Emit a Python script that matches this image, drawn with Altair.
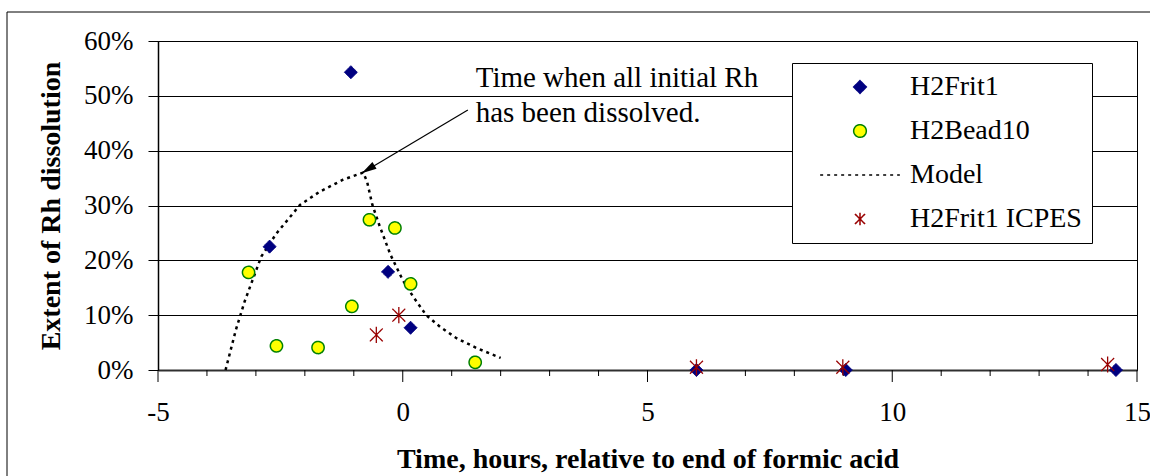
import altair as alt
import pandas as pd

series_names = ["H2Frit1", "H2Bead10", "Model", "H2Frit1 ICPES"]

frit_x = [-2.72, -1.06, -0.30, 0.16, 6.0, 9.05, 14.57]
frit_y = [0.225, 0.543, 0.179, 0.077, 0.0, 0.0, 0.0]

bead_x = [-3.15, -2.58, -1.73, -1.04, -0.68, -0.16, 0.16, 1.48]
bead_y = [0.178, 0.044, 0.041, 0.116, 0.274, 0.259, 0.157, 0.014]

icp_x = [-0.54, -0.08, 6.0, 8.99, 14.40]
icp_y = [0.064, 0.100, 0.005, 0.005, 0.010]

model_x = [-3.62, -3.41, -3.23, -2.89, -2.58, -2.10, -1.70, -1.22, -0.81,
           -0.73, -0.62, -0.47, -0.25, 0.0, 0.21, 0.48, 0.76, 1.10, 1.51, 2.0]
model_y = [0.0, 0.073, 0.125, 0.207, 0.249, 0.301, 0.325, 0.347, 0.360,
           0.344, 0.301, 0.262, 0.210, 0.164, 0.134, 0.100, 0.079, 0.058, 0.040, 0.022]

major_ticks = [-5, 0, 5, 10, 15]
minor_ticks = [t for t in range(-5, 16) if t % 5 != 0]

note_text = "Time when all initial Rh\nhas been dissolved."
note_x = [1.49]
note_y = [0.517]
arrow_from = (1.33, 0.474)
arrow_to = (-0.84, 0.359)

FONT = "Liberation Serif"
STAR = "M0,-1V1M-0.8,-0.8L0.8,0.8M-0.8,0.8L0.8,-0.8"
LINE = "M-6.3,0H6.3"
ARROW = "M0,0L-0.4,1.5L0.4,1.5Z"
H = 329

frit = pd.DataFrame({"x": frit_x, "y": frit_y, "series": "H2Frit1"})
bead = pd.DataFrame({"x": bead_x, "y": bead_y, "series": "H2Bead10"})
icp = pd.DataFrame({"x": icp_x, "y": icp_y, "series": "H2Frit1 ICPES"})
model = pd.DataFrame({"x": model_x, "y": model_y, "series": "Model"})
note = pd.DataFrame({"x": note_x, "y": note_y, "t": [note_text]})
arrow = pd.DataFrame({"x": [arrow_from[0]], "y": [arrow_from[1]],
                      "x2": [arrow_to[0]], "y2": [arrow_to[1]]})
head = pd.DataFrame({"x": [arrow_to[0]], "y": [arrow_to[1]]})
frame = pd.DataFrame({"k": [0]})
majors = pd.DataFrame({"x": major_ticks})
minors = pd.DataFrame({"x": minor_ticks})

legend = alt.Legend(
    title=None, orient="none", legendX=634, legendY=22,
    fillColor="white", strokeColor="black", padding=10,
    labelFont=FONT, labelFontSize=28, labelColor="black", labelLimit=400,
    symbolSize=160, symbolStrokeWidth=1.5, rowPadding=16,
    symbolOffset=44, labelOffset=36,
)

shape_enc = alt.Shape("series:N", scale=alt.Scale(domain=series_names, range=["diamond", "circle", LINE, STAR]), legend=legend)
fill_enc = alt.Fill("series:N", scale=alt.Scale(domain=series_names, range=["#000080", "#FFFF00", "transparent", "transparent"]), legend=legend)
stroke_enc = alt.Stroke("series:N", scale=alt.Scale(domain=series_names, range=["#000080", "#008000", "#000000", "#990000"]), legend=legend)
dash_enc = alt.StrokeDash("series:N", scale=alt.Scale(domain=series_names, range=[[1, 0], [1, 0], [3, 4], [1, 0]]), legend=legend)

xs = alt.Scale(domain=[-5, 15], nice=False)
ys = alt.Scale(domain=[0, 0.6], nice=False)

x_axis = alt.Axis(
    values=major_ticks, orient="bottom",
    labelExpr="replace(datum.label, '\u2212', '-')",
    ticks=False, domainColor="#303030", domainWidth=2,
    grid=False, labelFont=FONT, labelFontSize=27, labelColor="black",
    labelPadding=29, labelFlush=False,
    title="Time, hours, relative to end of formic acid",
    titleFont=FONT, titleFontSize=28, titleFontWeight="bold", titleColor="black",
    titleX=489.5, titleY=97, titleBaseline="alphabetic", titleAlign="center",
)
y_axis = alt.Axis(
    values=[0, 0.1, 0.2, 0.3, 0.4, 0.5, 0.6], format=".0%",
    tickSize=10, tickColor="black", domainColor="black", domainWidth=1.5,
    grid=True, gridColor="black", gridWidth=1,
    labelFont=FONT, labelFontSize=27, labelColor="black", labelPadding=15,
    title="Extent of Rh dissolution",
    titleFont=FONT, titleFontSize=28, titleFontWeight="bold", titleColor="black",
    titleX=-107, titleY=164.5, titleAngle=-90, titleBaseline="middle", titleAlign="center",
)

X = alt.X("x:Q", scale=xs, axis=x_axis)
Y = alt.Y("y:Q", scale=ys, axis=y_axis)

frame_layer = alt.Chart(frame).mark_rect(fillOpacity=0, stroke="black", strokeWidth=1).encode(
    x=alt.value(-151), x2=alt.value(1250), y=alt.value(-29), y2=alt.value(560)
)

major_layer = alt.Chart(majors).mark_rule(color="black", strokeWidth=1).encode(
    x=X, y=alt.value(H), y2=alt.value(H + 12)
)
minor_layer = alt.Chart(minors).mark_rule(color="black", strokeWidth=1).encode(
    x=X, y=alt.value(H), y2=alt.value(H + 6)
)

line_layer = alt.Chart(model).mark_line(strokeWidth=2.5, opacity=1).encode(
    x=X, y=Y, stroke=stroke_enc, strokeDash=dash_enc
)

def pts(df, size, sw):
    return alt.Chart(df).mark_point(size=size, opacity=1, strokeWidth=sw, filled=False).encode(
        x=X, y=Y, shape=shape_enc, fill=fill_enc, stroke=stroke_enc, strokeDash=dash_enc
    )

frit_layer = pts(frit, 170, 1)
bead_layer = pts(bead, 150, 1.5)
icp_layer = pts(icp, 260, 1.3)

text_layer = alt.Chart(note).mark_text(
    font=FONT, fontSize=29, align="left", baseline="alphabetic", lineBreak="\n",
    lineHeight=35, color="black"
).encode(x=X, y=Y, text="t:N")

arrow_layer = alt.Chart(arrow).mark_rule(color="black", strokeWidth=1.2).encode(
    x=X, y=Y, x2="x2:Q", y2="y2:Q"
)
head_layer = alt.Chart(head).mark_point(
    shape=ARROW, angle=239, filled=True, color="black", size=400, opacity=1
).encode(x=X, y=Y)

chart = alt.layer(
    frame_layer, major_layer, minor_layer, line_layer, frit_layer, bead_layer, icp_layer,
    text_layer, arrow_layer, head_layer
).properties(
    width=979, height=H,
    autosize=alt.AutoSizeParams(type="none"),
    padding={"left": 158, "top": 41, "right": 13, "bottom": 106},
    background="white",
).configure_view(stroke="black", strokeWidth=1)

chart.save("out.html", embed_options={"renderer": "svg", "actions": False})
